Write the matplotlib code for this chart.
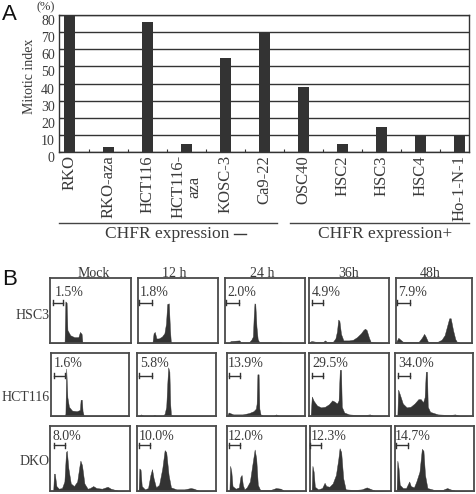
#!/usr/bin/env python3
"""Mitotic index bars (A) and flow cytometry histograms (B)."""

import matplotlib
matplotlib.use("Agg")
import matplotlib.pyplot as plt
from matplotlib.transforms import ScaledTranslation

W, H = 477, 494
DARK = "#333333"
TEXT = "#3a3a3a"

plt.rcParams["font.family"] = ["Liberation Serif", "DejaVu Serif"]

# Panel A
cell_lines = ["RKO", "RKO-aza", "HCT116", "HCT116-\naza", "KOSC-3", "Ca9-22",
              "OSC40", "HSC2", "HSC3", "HSC4", "Ho-1-N-1"]
mitotic_index = [80, 3, 76, 5, 55, 70, 38, 5, 15, 10, 10]
y_ticks = [0, 10, 20, 30, 40, 50, 60, 70, 80]

# Panel B
times = ["Mock", "12 h", "24 h", "36h", "48h"]
rows = ["HSC3", "HCT116", "DKO"]
gated = [
    ["1.5%", "1.8%", "2.0%", "4.9%", "7.9%"],
    ["1.6%", "5.8%", "13.9%", "29.5%", "34.0%"],
    ["8.0%", "10.0%", "12.0%", "12.3%", "14.7%"],
]

# histogram outlines, x and y both in percent of the panel
hsc3_mock_x = [0, 17, 18, 19, 20.5, 21.5, 25, 30, 35, 37, 39, 40, 100]
hsc3_mock_y = [0, 0, 2, 64, 62, 20, 12, 9, 9, 17, 14, 1, 0]
hsc3_12h_x = [0, 18, 19.5, 21, 23, 26, 30, 33, 35, 36.5, 38.5, 40, 41, 42, 100]
hsc3_12h_y = [0, 0, 15, 17, 7, 7, 10, 15, 30, 60, 61, 20, 2, 0, 0]
hsc3_24h_x = [0, 5, 7, 18, 20, 30, 33, 35, 36, 37, 38, 39.5, 41, 43, 70, 72, 100]
hsc3_24h_y = [0, 0, 3, 4, 1, 1, 5, 10, 40, 61, 60, 25, 6, 1, 1, 0, 0]
hsc3_36h_x = [0, 3, 8, 18, 20, 22, 30, 33, 35, 36.5, 38, 40, 43, 50, 55, 60, 65, 68, 70, 72, 75, 77, 80, 100]
hsc3_36h_y = [1, 3, 2, 2, 4, 2, 2, 7, 18, 36, 34, 14, 4, 4, 5, 9, 15, 20, 22, 20, 8, 2, 1, 0]
hsc3_48h_x = [0, 3, 6, 9, 30, 34, 37, 39, 42, 55, 60, 64, 67, 70, 72, 75, 78, 80, 85, 100]
hsc3_48h_y = [1, 8, 5, 2, 2, 8, 14, 10, 2, 2, 5, 12, 25, 38, 38, 20, 6, 2, 0, 0]

hct_mock_x = [0, 18, 18.5, 19.5, 21, 23, 27, 33, 37, 38, 39.5, 40.5, 42, 43, 100]
hct_mock_y = [0, 0, 5, 75, 30, 15, 9, 8, 10, 26, 26, 8, 1, 0, 0]
hct_12h_x = [0, 3, 5, 8, 20, 22, 24, 33, 35, 37, 38.5, 39.5, 41, 42, 43, 45, 100]
hct_12h_y = [0, 1, 3, 1, 1, 2, 1, 1, 4, 15, 55, 77, 70, 20, 2, 1, 0]
hct_24h_x = [0, 2, 4, 8, 20, 28, 34, 37, 38, 39, 40.5, 41.5, 43, 46, 60, 63, 66, 100]
hct_24h_y = [0, 6, 5, 3, 3, 5, 8, 12, 20, 66, 66, 12, 3, 1, 1, 3, 1, 0]
hct_36h_x = [0, 2, 3.5, 6, 10, 15, 20, 25, 29, 32, 35, 37, 38.5, 40, 41, 44, 50, 60, 70, 76, 80, 100]
hct_36h_y = [0, 0, 31, 24, 17, 14, 15, 19, 25, 23, 20, 25, 73, 73, 15, 6, 3, 2, 2, 3, 1, 0]
hct_48h_x = [0, 3, 4, 6, 10, 15, 20, 25, 30, 33, 36, 38, 39.5, 41, 42, 45, 55, 70, 77, 82, 100]
hct_48h_y = [0, 0, 42, 35, 20, 14, 15, 20, 27, 27, 22, 30, 70, 70, 15, 7, 3, 2, 3, 1, 0]

dko_mock_x = [0, 4, 5, 6, 8, 11, 15, 18, 20, 21, 23, 26, 30, 34, 37, 38, 40, 43, 47, 50, 54, 58, 65, 72, 76, 85, 100]
dko_mock_y = [0, 0, 27, 27, 8, 4, 5, 15, 60, 62, 35, 12, 8, 15, 40, 47, 40, 12, 4, 5, 8, 5, 4, 7, 4, 1, 0]
dko_12h_x = [0, 2, 3, 4.5, 6, 10, 14, 17, 19, 21, 24, 28, 32, 35, 37, 40, 43, 50, 60, 68, 72, 78, 100]
dko_12h_y = [0, 0, 35, 33, 8, 3, 5, 25, 34, 20, 6, 10, 35, 63, 60, 25, 6, 3, 3, 5, 4, 1, 0]
dko_24h_x = [0, 3, 4, 5.5, 7, 11, 15, 17, 18.5, 20, 22, 25, 29, 32, 35, 37, 39, 42, 55, 62, 68, 72, 100]
dko_24h_y = [0, 0, 39, 30, 8, 4, 6, 22, 25, 10, 3, 6, 15, 40, 64, 50, 10, 2, 2, 5, 4, 1, 0]
dko_36h_x = [0, 2, 3, 4.5, 6, 10, 15, 18, 20, 24, 28, 32, 35, 36.5, 38.5, 41, 44, 55, 64, 70, 74, 80, 100]
dko_36h_y = [0, 0, 39, 30, 7, 3, 5, 13, 8, 7, 12, 25, 50, 66, 60, 20, 3, 2, 3, 6, 4, 1, 0]
dko_48h_x = [0, 2, 3, 4.5, 6, 10, 14, 18, 20, 24, 27, 31, 34, 36, 38, 41, 50, 60, 66, 70, 76, 100]
dko_48h_y = [0, 0, 47, 35, 10, 5, 5, 15, 8, 6, 15, 30, 65, 62, 25, 5, 2, 2, 5, 3, 1, 0]

hist_x = [
    [hsc3_mock_x, hsc3_12h_x, hsc3_24h_x, hsc3_36h_x, hsc3_48h_x],
    [hct_mock_x, hct_12h_x, hct_24h_x, hct_36h_x, hct_48h_x],
    [dko_mock_x, dko_12h_x, dko_24h_x, dko_36h_x, dko_48h_x],
]
hist_y = [
    [hsc3_mock_y, hsc3_12h_y, hsc3_24h_y, hsc3_36h_y, hsc3_48h_y],
    [hct_mock_y, hct_12h_y, hct_24h_y, hct_36h_y, hct_48h_y],
    [dko_mock_y, dko_12h_y, dko_24h_y, dko_36h_y, dko_48h_y],
]

# layout, all in image pixels
row_tops = [278, 352.7, 426]
row_bottoms = [343, 416.3, 491.3]
col_edges = [
    [(50, 131), (138, 218), (225, 304.7), (309, 389), (396, 472)],
    [(51, 129), (137, 216), (227, 305), (309, 389), (395, 473)],
    [(50, 130), (137, 216), (227, 306), (310, 391), (395, 474)],
]
gates = [
    [(52.7, 63.3), (139.3, 152), (226, 239), (312.3, 323), (397.3, 410)],
    [(54, 64.7), (139.3, 152), (229.3, 240.3), (312.3, 323), (397.7, 410)],
    [(54, 64.7), (139.3, 150.3), (229.3, 240.3), (310.3, 321.3), (395.7, 408.3)],
]
gate_y = [302.7, 375.7, 445.3]
label_y = [292.7, 363.3, 436]
label_x = [
    [55, 140, 227, 312, 398],
    [53.7, 140, 228, 312, 398],
    [53, 139, 228, 311, 395],
]
header_x = [94, 174, 262, 349, 430]
row_label_y = [315.7, 397, 461]


def px_axes(fig, left, top, right, bottom, **kw):
    return fig.add_axes([left / W, 1 - bottom / H, (right - left) / W, (bottom - top) / H], **kw)


fig = plt.figure(figsize=(W / 100, H / 100), dpi=100)

# bar chart
ax = px_axes(fig, 59, 15, 469, 152.3)
spacing = 39.0
first_bar = 69.7
pos = list(range(len(cell_lines)))
ax.set_xlim((59 - first_bar) / spacing, (469 - first_bar) / spacing)
ax.set_ylim(0, 80)
ax.bar(pos, mitotic_index, width=0.28, color=DARK, zorder=3)
ax.grid(True, axis="y", color=DARK, linewidth=1.0)
ax.set_axisbelow(True)
ax.set_yticks(y_ticks)
ax.set_yticklabels([str(v) for v in y_ticks], fontsize=10, color=TEXT, va="top")
# tick numbers sit a little below their gridlines
nudge = ScaledTranslation(0, -1.5 / 100, fig.dpi_scale_trans)
for lbl in ax.get_yticklabels():
    lbl.set_transform(lbl.get_transform() + nudge)
ax.set_xticks(pos)
ax.set_xticklabels(cell_lines, rotation=90, fontsize=12, color=TEXT, va="top",
                   ha="center", multialignment="center", linespacing=1.0)
ax.set_xticks([p + 0.5 for p in pos[:-1]], minor=True)
ax.tick_params(axis="x", which="major", length=0, pad=2)
ax.tick_params(axis="x", which="minor", length=2, width=0.8, color=DARK, direction="in")
ax.tick_params(axis="y", length=2, width=0.8, color=DARK, pad=3, direction="in")
for s in ax.spines.values():
    s.set_color(DARK)
    s.set_linewidth(1.0)

# histograms
for r in range(len(rows)):
    for c in range(len(times)):
        left, right = col_edges[r][c]
        hax = px_axes(fig, left, row_tops[r], right, row_bottoms[r])
        hax.fill_between(hist_x[r][c], hist_y[r][c], 0, color=DARK, linewidth=0.3)
        hax.set_xlim(0, 100)
        hax.set_ylim(0, 100)
        hax.set_xticks([])
        hax.set_yticks([])
        for s in hax.spines.values():
            s.set_color("#4a4a4a")
            s.set_linewidth(1.3)

# everything placed by pixel sits on one overlay
over = fig.add_axes([0, 0, 1, 1], facecolor="none")
over.set_xlim(0, W)
over.set_ylim(H, 0)
over.axis("off")

over.text(2, 14, "A", fontsize=16, family=["Liberation Sans"], color="#111111", va="center")
over.text(2, 279, "B", fontsize=16, family=["Liberation Sans"], color="#111111", va="center")
over.text(46, 7, "(%)", fontsize=9, color=TEXT, ha="center", va="center")
over.text(30, 76, "Mitotic index", fontsize=10, color=TEXT, rotation=90, ha="center", va="center")

over.plot([59, 277], [222.7, 222.7], color="#444444", lw=1.0)
over.plot([290, 469], [222.7, 222.7], color="#444444", lw=1.0)
over.text(105, 234, "CHFR expression", fontsize=12.5, color=TEXT, va="center")
over.plot([234, 246], [233.5, 233.5], color=TEXT, lw=1.0)
over.text(318, 234, "CHFR expression+", fontsize=12.5, color=TEXT, va="center")

for c, name in enumerate(times):
    over.text(header_x[c], 273, name, fontsize=10, color=TEXT, ha="center", va="center")

for r, name in enumerate(rows):
    over.text(49.5, row_label_y[r], name, fontsize=10, color=TEXT, ha="right", va="center")
    for c in range(len(times)):
        over.text(label_x[r][c], label_y[r], gated[r][c], fontsize=10, color=TEXT, va="center")
        g0, g1 = gates[r][c]
        over.plot([g0, g1], [gate_y[r], gate_y[r]], color=DARK, lw=1.0)
        over.plot([g0, g0], [gate_y[r] - 2.5, gate_y[r] + 2.5], color=DARK, lw=1.0)
        over.plot([g1, g1], [gate_y[r] - 2.5, gate_y[r] + 2.5], color=DARK, lw=1.0)

fig.savefig("out.png", dpi=100)
